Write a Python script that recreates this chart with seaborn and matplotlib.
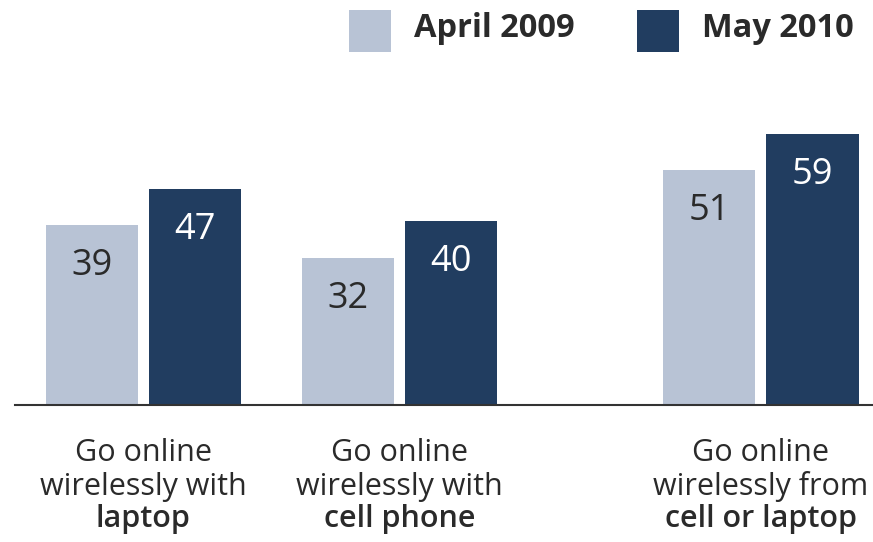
import matplotlib
matplotlib.use("Agg")
import matplotlib.pyplot as plt
from matplotlib.patches import Rectangle
from matplotlib.legend_handler import HandlerPatch
import pandas as pd
import seaborn as sns

# data (percent)
groups = ["laptop", "cell phone", "cell or laptop"]
label_top = ["Go online", "Go online", "Go online"]
label_mid = ["wirelessly with", "wirelessly with", "wirelessly from"]
years = ["April 2009", "May 2010"]
april_2009 = [39, 32, 51]
may_2010 = [47, 40, 59]

# layout: the third group sits further to the right than the other two
group_pos = [0, 1, 2.41]

colors = {"April 2009": "#b8c3d5", "May 2010": "#213d60"}
text_dark = "#2a2a2a"

sns.set_style("white")
plt.rcParams["font.family"] = ["Open Sans", "DejaVu Sans"]

df = pd.DataFrame({
    "pos": group_pos * 2,
    "year": [years[0]] * 3 + [years[1]] * 3,
    "value": april_2009 + may_2010,
})

fig = plt.figure(figsize=(8.73, 5.42), dpi=100)
ax = fig.add_axes([15 / 873, 137.5 / 542, 1 - 15 / 873, 303 / 542])

sns.barplot(data=df, x="pos", y="value", hue="year", hue_order=years,
            palette=colors, native_scale=True, width=0.804, gap=0.107,
            errorbar=None, saturation=1, linewidth=0, ax=ax)

ax.set_xlim(-0.5, 2.847)
ax.set_ylim(0, 66)
ax.set_xticks([])
ax.set_yticks([])
ax.set_xlabel("")
ax.set_ylabel("")
for s in ["left", "right", "top"]:
    ax.spines[s].set_visible(False)
ax.spines["bottom"].set_color("#333333")
ax.spines["bottom"].set_linewidth(1.5)

# value labels inside the top of each bar
for cont, col in zip(ax.containers, [text_dark, "white"]):
    for bar in cont:
        h = bar.get_height()
        ax.annotate(f"{h:.0f}", (bar.get_x() + bar.get_width() / 2, h),
                    xytext=(0, -36), textcoords="offset points",
                    ha="center", va="baseline", fontsize=26, color=col)

# category labels under the axis, last line in bold
for p, t1, t2, t3 in zip(group_pos, label_top, label_mid, groups):
    for txt, off, wt in [(t1, -41, "normal"), (t2, -65.5, "normal"), (t3, -88, "semibold")]:
        ax.annotate(txt, (p, 0), xycoords=("data", "axes fraction"),
                    xytext=(0, off), textcoords="offset points",
                    ha="center", va="baseline", fontsize=22, fontweight=wt,
                    color=text_dark, annotation_clip=False)


# square legend keys, a bit lower than the default patch
def square_key(legend, orig_handle, xdescent, ydescent, width, height, fontsize):
    return Rectangle((-xdescent, -10.8), width, width)


sns.move_legend(ax, "upper right", bbox_to_anchor=(854 / 873, 1 - 8 / 542),
                bbox_transform=fig.transFigure, ncol=2, frameon=False, title=None,
                handlelength=1.28, handleheight=1.28, handletextpad=0.72,
                columnspacing=1.9, borderpad=0, borderaxespad=0,
                prop={"weight": "bold", "size": 23.5},
                handler_map={Rectangle: HandlerPatch(patch_func=square_key)})
for t in ax.get_legend().get_texts():
    t.set_color(text_dark)

fig.savefig("out.png", dpi=100)
